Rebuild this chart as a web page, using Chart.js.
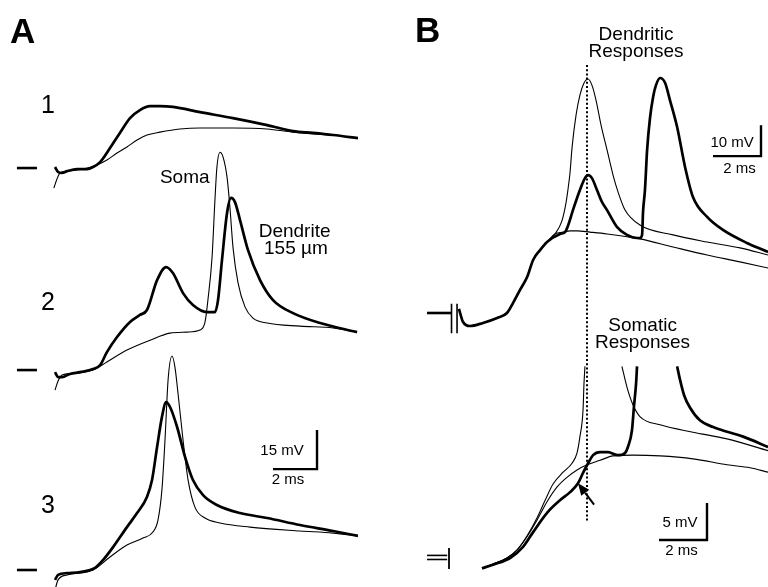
<!DOCTYPE html>
<html>
<head>
<meta charset="utf-8">
<script src="https://cdn.jsdelivr.net/npm/chart.js@4.4.0/dist/chart.umd.min.js"></script>
<style>
  body { margin: 0; background: #fff; }
  #wrap { width: 768px; height: 587px; position: relative; }
</style>
</head>
<body>
<div id="wrap"><canvas id="fig"></canvas></div>
<script>
// ---- Panel A: [time ms, mV above rest], traces 1..3 (thin = soma, thick = dendrite 155 um)
const a1Soma = [[-0.05,-7.7],[0.09,-4.2],[0.23,-1.9],[0.55,-1.2],[1.27,-0.4],[1.91,1.2],[2.36,3.1],[2.82,5.8],[3.27,8.1],[3.73,10.8],[4.18,12.7],[4.77,13.8],[5.68,15.0],[6.59,15.4],[8.09,15.4],[9.64,15.0],[10.82,13.8],[11.73,13.1],[12.64,12.7],[13.77,11.5]];
const a1Dend = [[0,0.4],[0.14,-1.5],[0.32,-1.9],[0.55,-1.2],[1.0,-0.4],[1.45,-0.4],[1.73,0.4],[2.05,2.3],[2.5,7.7],[2.95,13.5],[3.41,19.2],[3.86,22.3],[4.32,23.8],[4.77,23.8],[5.36,23.5],[6.59,21.5],[8.09,19.2],[9.64,16.5],[10.82,14.2],[11.73,13.5],[12.64,12.7],[13.77,11.5]];
const a2Soma = [[0,-7.7],[0.14,-4.2],[0.32,-1.9],[1.0,-1.2],[1.73,0],[2.36,3.1],[3.27,7.7],[4.32,11.5],[5.23,14.2],[6.0,14.6],[6.59,15.4],[6.82,18.5],[6.95,26.9],[7.14,43.5],[7.27,65.4],[7.36,78.1],[7.5,83.8],[7.64,81.9],[7.82,74.2],[7.95,62.7],[8.09,47.3],[8.32,33.5],[8.64,24.2],[9.0,20.0],[9.64,18.1],[11.14,16.9],[12.64,16.2],[13.73,14.6]];
const a2Dend = [[0,-0.8],[0.14,-2.7],[0.32,-2.7],[0.68,-1.5],[1.14,-0.8],[1.73,0.4],[2.05,1.9],[2.36,6.9],[2.82,12.7],[3.41,18.5],[3.86,21.2],[4.18,23.1],[4.64,34.6],[5.05,39.6],[5.36,37.3],[5.82,29.6],[6.27,25.0],[6.91,22.3],[7.27,22.3],[7.41,26.9],[7.59,42.3],[7.82,60.4],[8.0,66.2],[8.18,64.6],[8.41,57.7],[8.77,46.2],[9.32,34.6],[9.91,26.9],[10.82,21.9],[12.05,18.1],[13.73,14.6]];
const a3Soma = [[0,-7.7],[0.14,-3.8],[0.55,-1.9],[1.73,0],[2.5,5.0],[3.27,9.6],[4.0,12.3],[4.45,14.6],[4.68,19.2],[4.86,30.8],[5.0,50.0],[5.14,73.1],[5.32,82.3],[5.45,78.1],[5.59,68.1],[5.82,50.0],[6.05,34.6],[6.36,24.2],[6.82,20.0],[7.5,18.1],[8.86,16.5],[11.14,15.0],[12.64,14.2],[13.77,13.1]];
const a3Dend = [[0,-3.8],[0.14,-1.9],[0.55,-1.2],[1.14,-0.8],[1.82,0.8],[2.18,3.8],[2.64,8.8],[3.27,16.5],[3.73,21.9],[4.18,28.1],[4.41,34.6],[4.64,47.3],[4.86,58.8],[5.05,64.6],[5.23,62.7],[5.55,55.0],[5.91,43.5],[6.27,34.6],[6.73,28.8],[7.36,25.0],[8.41,21.9],[9.64,20.0],[11.14,17.3],[12.64,15.0],[13.77,13.1]];
const aRestLevels = [154.6, 76.9, 0]; // resting level of trace 1, 2, 3 on the shared mV axis

// ---- Panel B, dendritic responses [ms, mV]
const dRise = [[0.04,1.3],[0.21,-2.9],[0.5,-4.2],[1.04,-3.2],[1.63,-1.6],[2.04,0],[2.29,3.2],[2.58,7.4],[2.88,11.6],[3.13,17.1],[3.42,20.3],[3.71,22.9]];
const dEarly = [[4.04,25.5],[4.33,29.7],[4.5,35.5],[4.58,39.7],[4.67,45.5],[4.75,53.2],[4.92,63.9],[5.08,70.3],[5.25,74.2],[5.42,75.5],[5.58,73.5],[5.75,68.7],[5.96,60.6],[6.21,52.6],[6.46,44.5],[6.67,39.0],[6.96,33.2],[7.58,28.4],[8.96,25.2],[10.38,22.9],[11.75,21.0],[12.92,18.7]];
const dLate = [[4.25,25.5],[4.46,26.1],[4.58,28.1],[4.79,33.2],[5.08,39.7],[5.29,43.5],[5.42,44.5],[5.58,43.5],[5.79,39.7],[6.0,35.8],[6.21,33.2],[6.63,27.7],[7.04,25.2],[7.46,24.2],[7.58,24.2],[7.67,25.2],[7.71,32.6],[7.79,39.7],[7.88,52.6],[8.0,62.9],[8.13,69.7],[8.25,73.5],[8.42,75.8],[8.63,74.2],[8.83,68.7],[9.13,60.0],[9.46,47.1],[9.79,37.4],[10.38,31.0],[11.04,26.8],[12.04,22.6],[12.92,19.7]];
const dSub = [[4.04,25.5],[4.38,26.1],[4.67,26.5],[4.96,26.5],[5.5,26.1],[6.21,25.5],[7.58,23.9],[8.96,21.3],[10.38,18.7],[11.75,16.5],[12.92,14.5]];

// ---- Panel B, somatic responses [ms, mV] (spikes run off the top)
const sEarlyUp = [[1.0,-1.4],[1.46,-0.8],[2.04,0],[2.46,1.1],[2.88,3.0],[3.29,5.4],[3.63,7.8],[3.96,10.0],[4.38,11.6],[4.75,12.8],[4.96,14.2],[5.08,16.4],[5.21,20.0],[5.25,23.6],[5.29,25.9]];
const sEarlyDown = [[6.83,25.9],[7.04,23.1],[7.29,20.7],[7.58,19.1],[8.42,18.0],[9.79,17.0],[11.21,16.1],[12.92,14.5]];
const sLateUp = [[1.0,-1.4],[1.46,-0.9],[2.17,0],[2.71,1.5],[3.13,3.5],[3.71,6.1],[4.25,7.8],[4.67,8.9],[5.0,10.1],[5.21,11.5],[5.42,12.8],[5.63,13.9],[5.92,14.3],[6.25,14.3],[6.67,13.9],[6.96,14.2],[7.08,15.0],[7.25,17.3],[7.33,20.4],[7.42,23.6],[7.46,25.9]];
const sLateDown = [[9.13,25.9],[9.25,24.1],[9.42,22.0],[9.67,20.3],[10.08,18.6],[10.63,17.7],[11.88,16.4],[12.92,15.0]];
const sSub = [[1.0,-1.4],[1.46,-0.8],[2.04,0],[2.5,1.2],[2.92,3.1],[3.29,5.1],[3.71,7.6],[4.13,9.6],[4.54,10.9],[4.96,11.9],[5.38,12.6],[5.92,13.2],[6.46,13.8],[7.29,13.9],[8.42,13.8],[9.79,13.4],[11.21,12.6],[12.17,12.2],[12.92,11.6]];

const spikeTime = 5.375; // dotted line, ms
const scaleBarA = { ms: 2, mV: 15 };
const scaleBarD = { ms: 2, mV: 10 };
const scaleBarS = { ms: 2, mV: 5 };

// ---- layout: pixels per unit and where zero sits (figure frame)
const W = 768, H = 587;
function xRange(zeroPx, pxPerUnit) { return { min: -zeroPx / pxPerUnit, max: (W - zeroPx) / pxPerUnit }; }
function yRange(zeroPx, pxPerUnit) { return { min: -(H - zeroPx) / pxPerUnit, max: zeroPx / pxPerUnit }; }

const FONT = '"Liberation Sans", Arial, Helvetica, sans-serif';
const THIN = 1.1, THICK = 2.7;

function pts(arr, off) { return arr.map(p => ({ x: p[0], y: p[1] + (off || 0) })); }
function trace(arr, xID, yID, width, off) {
    return {
        data: pts(arr, off), xAxisID: xID, yAxisID: yID,
        borderColor: '#000', borderWidth: width, pointRadius: 0,
        showLine: true, fill: false, cubicInterpolationMode: 'monotone'
    };
}
function seg(arr, xID, yID, width, dash) {
    return {
        data: pts(arr), xAxisID: xID, yAxisID: yID,
        borderColor: '#000', borderWidth: width, pointRadius: 0,
        showLine: true, fill: false, tension: 0, borderDash: dash || [],
        borderCapStyle: 'butt'
    };
}

const datasets = [];
// panel A traces
[[a1Soma, a1Dend], [a2Soma, a2Dend], [a3Soma, a3Dend]].forEach((pair, i) => {
    datasets.push(trace(pair[0], 'xA', 'yA', THIN, aRestLevels[i]));
    datasets.push(trace(pair[1], 'xA', 'yA', THICK, aRestLevels[i]));
    datasets.push(seg([[-1.73, aRestLevels[i]], [-0.82, aRestLevels[i]]], 'xA', 'yA', 2.6));
});
// panel A scale bar
datasets.push(seg([[9.91, 38.8], [9.91 + scaleBarA.ms, 38.8], [9.91 + scaleBarA.ms, 38.8 + scaleBarA.mV]], 'xA', 'yA', 2.4));

// panel B dendritic
datasets.push(trace(dRise.concat(dSub), 'xB', 'yD', THIN));
datasets.push(trace(dRise.concat(dEarly), 'xB', 'yD', THIN));
datasets.push(trace(dRise.concat(dLate), 'xB', 'yD', THICK));
datasets.push(seg([[-1.29, 0], [-0.27, 0]], 'xB', 'yD', 2.6));
datasets.push(seg([[-0.27, 3.0], [-0.27, -6.5]], 'xB', 'yD', 1.6));
datasets.push(seg([[-0.04, 3.0], [-0.04, -6.5]], 'xB', 'yD', 1.6));
datasets.push(seg([[10.625, 50.6], [10.625 + scaleBarD.ms, 50.6], [10.625 + scaleBarD.ms, 50.6 + scaleBarD.mV]], 'xB', 'yD', 2.4));
datasets.push(seg([[spikeTime, 80], [spikeTime, -67.7]], 'xB', 'yD', 2, [2, 2.2]));

// panel B somatic
datasets.push(trace(sSub, 'xB', 'yS', THIN));
datasets.push(trace(sEarlyUp, 'xB', 'yS', THIN));
datasets.push(trace(sEarlyDown, 'xB', 'yS', THIN));
datasets.push(trace(sLateUp, 'xB', 'yS', THICK));
datasets.push(trace(sLateDown, 'xB', 'yS', THICK));
datasets.push(seg([[-1.29, 0.35], [-0.45, 0.35]], 'xB', 'yS', 1.6));
datasets.push(seg([[-1.29, -0.2], [-0.45, -0.2]], 'xB', 'yS', 1.6));
datasets.push(seg([[-0.375, 1.35], [-0.375, -1.5]], 'xB', 'yS', 1.8));
datasets.push(seg([[8.375, 2.43], [8.375 + scaleBarS.ms, 2.43], [8.375 + scaleBarS.ms, 2.43 + scaleBarS.mV]], 'xB', 'yS', 2.4));

// text labels in axis units
const labels = [
    { text: 'A', x: 'xA', y: 'yA', t: -2.05, v: 202.7, size: 35, bold: true, align: 'left' },
    { text: '1', x: 'xA', y: 'yA', t: -0.32, v: 175.8, size: 25, align: 'center' },
    { text: '2', x: 'xA', y: 'yA', t: -0.32, v: 100, size: 25, align: 'center' },
    { text: '3', x: 'xA', y: 'yA', t: -0.32, v: 21.9, size: 25, align: 'center' },
    { text: 'Soma', x: 'xA', y: 'yA', t: 4.77, v: 148.8, size: 19, align: 'left' },
    { text: 'Dendrite', x: 'xA', y: 'yA', t: 10.89, v: 128.1, size: 19, align: 'center' },
    { text: '155 \u00b5m', x: 'xA', y: 'yA', t: 10.95, v: 121.5, size: 19, align: 'center' },
    { text: '15 mV', x: 'xA', y: 'yA', t: 10.32, v: 44.2, size: 15, align: 'center' },
    { text: '2 ms', x: 'xA', y: 'yA', t: 10.59, v: 33.1, size: 15, align: 'center' },
    { text: 'B', x: 'xB', y: 'yD', t: -1.79, v: 87.4, size: 35, bold: true, align: 'left' },
    { text: 'Dendritic', x: 'xB', y: 'yD', t: 7.42, v: 88.1, size: 19, align: 'center' },
    { text: 'Responses', x: 'xB', y: 'yD', t: 7.42, v: 82.6, size: 19, align: 'center' },
    { text: '10 mV', x: 'xB', y: 'yD', t: 11.42, v: 53.5, size: 15, align: 'center' },
    { text: '2 ms', x: 'xB', y: 'yD', t: 11.73, v: 45.2, size: 15, align: 'center' },
    { text: 'Somatic', x: 'xB', y: 'yS', t: 7.69, v: 30.7, size: 19, align: 'center' },
    { text: 'Responses', x: 'xB', y: 'yS', t: 7.69, v: 28.4, size: 19, align: 'center' },
    { text: '5 mV', x: 'xB', y: 'yS', t: 9.25, v: 4.2, size: 15, align: 'center' },
    { text: '2 ms', x: 'xB', y: 'yS', t: 9.31, v: 0.4, size: 15, align: 'center' }
];
const arrow = { x: 'xB', y: 'yS', from: [5.67, 7.2], to: [5.0, 10.1] };

const decor = {
    id: 'decor',
    beforeDraw(chart) {
        const c = chart.ctx;
        c.save();
        c.fillStyle = '#fff';
        c.fillRect(0, 0, chart.width, chart.height);
        c.restore();
    },
    afterDatasetsDraw(chart) {
        const c = chart.ctx;
        c.save();
        c.fillStyle = '#000';
        c.textBaseline = 'alphabetic';
        labels.forEach(l => {
            c.font = (l.bold ? 'bold ' : '') + l.size + 'px ' + FONT;
            c.textAlign = l.align;
            c.fillText(l.text, chart.scales[l.x].getPixelForValue(l.t), chart.scales[l.y].getPixelForValue(l.v));
        });
        // arrow pointing at the inflection
        const sx = chart.scales[arrow.x], sy = chart.scales[arrow.y];
        const x0 = sx.getPixelForValue(arrow.from[0]), y0 = sy.getPixelForValue(arrow.from[1]);
        const x1 = sx.getPixelForValue(arrow.to[0]), y1 = sy.getPixelForValue(arrow.to[1]);
        const ang = Math.atan2(y1 - y0, x1 - x0);
        const hl = 12, hw = 5;
        const bx = x1 - hl * Math.cos(ang), by = y1 - hl * Math.sin(ang);
        c.strokeStyle = '#000';
        c.lineWidth = 2;
        c.beginPath();
        c.moveTo(x0, y0);
        c.lineTo(bx, by);
        c.stroke();
        c.beginPath();
        c.moveTo(x1, y1);
        c.lineTo(bx + hw * Math.sin(ang), by - hw * Math.cos(ang));
        c.lineTo(bx - hw * Math.sin(ang), by + hw * Math.cos(ang));
        c.closePath();
        c.fill();
        c.restore();
    }
};

function hidden(r) { return { type: 'linear', display: false, min: r.min, max: r.max }; }

new Chart(document.getElementById('fig').getContext('2d'), {
    type: 'scatter',
    data: { datasets: datasets },
    options: {
        responsive: true,
        maintainAspectRatio: false,
        animation: false,
        layout: { padding: 0 },
        plugins: { legend: { display: false }, tooltip: { enabled: false } },
        scales: {
            xA: hidden(xRange(55, 22)),
            yA: hidden(yRange(570, 2.6)),
            xB: hidden(xRange(458, 24)),
            yD: hidden(yRange(313, 3.1)),
            yS: hidden(yRange(558, 7.4))
        }
    },
    plugins: [decor]
});
</script>
</body>
</html>
